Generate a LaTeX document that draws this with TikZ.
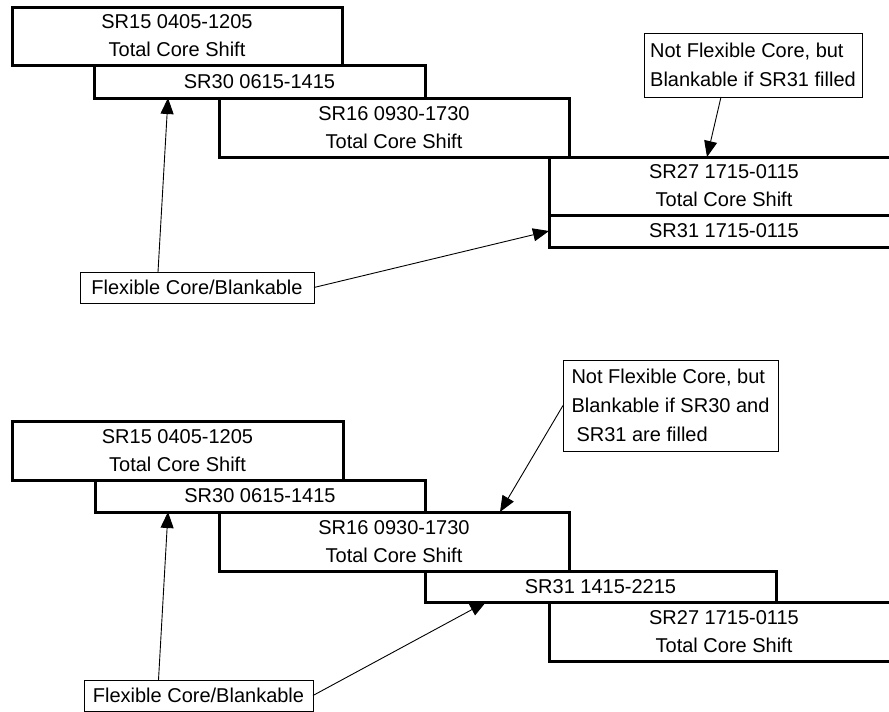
\documentclass[tikz,border=0pt]{standalone}
\usepackage{fontspec}
\setmainfont{Liberation Sans}
\usepackage{tikz}
\usetikzlibrary{arrows.meta,
                positioning}
\tikzset{shiftbox/.style=
   {rectangle,
    draw,
    line width=3pt,
    inner sep=0pt,
    outer sep=0pt,
    align=center,
    anchor=north west,
    font=\fontsize{20pt}{28pt}\selectfont}}
\tikzset{note/.style =
   {rectangle,
    draw,
    line width=0.9pt,
    inner xsep=5pt,
    inner ysep=0pt,
    outer sep=0pt,
    align=left,
    anchor=north west,
    font=\fontsize{20pt}{29pt}\selectfont}}
\tikzset{pointer/.style = {draw, line width=0.9pt, -{Triangle[length=16pt,width=13pt]}}}

\begin{document}
\begin{tikzpicture}[x=1pt, y=-1pt]

    \useasboundingbox (0,0) rectangle (889,712);
    \clip (0,0) rectangle (889,712);

    \node [shiftbox,
           minimum width=330,
           minimum height=58] (sr15a) at (12,7) {SR15 0405-1205\\Total Core Shift};

    \node [shiftbox,
           minimum width=331,
           minimum height=33,
           xshift=82] (sr30a) at (sr15a.south west) {SR30 0615-1415};

    \node [shiftbox,
           minimum width=350,
           minimum height=59,
           xshift=125] (sr16a) at (sr30a.south west) {SR16 0930-1730\\Total Core Shift};

    \node [shiftbox,
           minimum width=350,
           minimum height=58,
           xshift=330] (sr27a) at (sr16a.south west) {SR27 1715-0115\\Total Core Shift};

    \node [shiftbox,
           minimum width=350,
           minimum height=32] (sr31a) at (sr27a.south west) {SR31 1715-0115};

    \node [note,
           minimum width=218,
           minimum height=64] (notea) at (644,33) {Not Flexible Core, but\\Blankable if SR31 filled};

    \node [note,
           align=center,
           minimum width=234,
           minimum height=31] (flexa) at (80,272) {Flexible Core/Blankable};

    \draw [pointer] ([xshift=-32pt]notea.south) -- ([xshift=158pt]sr27a.north west);
    \draw [pointer] ([xshift=-39pt]flexa.north) -- ([xshift=74pt]sr30a.south west);
    \draw [pointer] (flexa.east) -- (sr31a.west);

    \node [shiftbox,
           minimum width=331,
           minimum height=59] (sr15b) at (12,421) {SR15 0405-1205\\Total Core Shift};

    \node [shiftbox,
           minimum width=330,
           minimum height=32,
           xshift=83] (sr30b) at (sr15b.south west) {SR30 0615-1415};

    \node [shiftbox,
           minimum width=350,
           minimum height=59,
           xshift=124] (sr16b) at (sr30b.south west) {SR16 0930-1730\\Total Core Shift};

    \node [shiftbox,
           minimum width=351,
           minimum height=31,
           xshift=206] (sr31b) at (sr16b.south west) {SR31 1415-2215};

    \node [shiftbox,
           minimum width=350,
           minimum height=59,
           xshift=124] (sr27b) at (sr31b.south west) {SR27 1715-0115\\Total Core Shift};

    \node [note,
           minimum width=215,
           minimum height=91] (noteb) at (563,360) {Not Flexible Core, but\\Blankable if SR30 and\\\hspace{5pt}SR31 are filled};

    \node [note,
           align=center,
           minimum width=229,
           minimum height=31] (flexb) at (84,680) {Flexible Core/Blankable};

    \draw [pointer] (noteb.west) -- ([xshift=106pt]sr16b.north);
    \draw [pointer] ([xshift=-40pt]flexb.north) -- ([xshift=73pt]sr30b.south west);
    \draw [pointer] (flexb.east) -- ([xshift=61pt]sr31b.south west);

\end{tikzpicture}
\end{document}
